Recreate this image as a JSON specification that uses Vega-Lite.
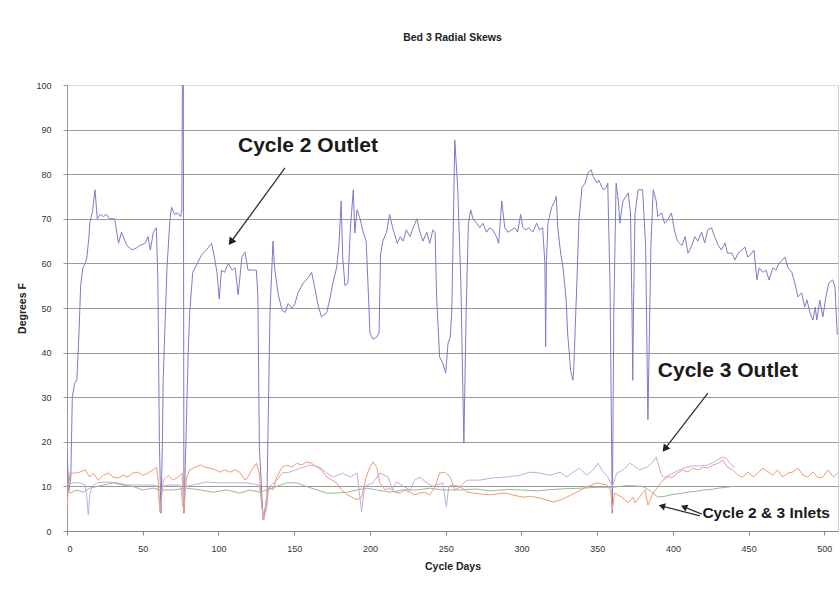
{
  "$schema": "https://vega.github.io/schema/vega-lite/v6.json",
  "width": 771,
  "height": 446,
  "autosize": {"type": "none"},
  "padding": {"left": 67, "top": 85, "right": 2, "bottom": 59},
  "background": "white",
  "title": {"text": "Bed 3 Radial Skews", "fontSize": 10.5, "font": "Liberation Sans Narrow, Liberation Sans, Arial", "fontWeight": "bold", "offset": 38, "anchor": "middle", "color": "#222"},
  "config": {"view": {"stroke": "#cfcfcf", "strokeWidth": 1}},
  "datasets": {
    "c2o": [[0,18],[1.2,9],[2.5,12],[3.5,30],[5,33],[6.5,34],[8,45],[9,55],[10.5,59],[12,60],[13,61],[14.5,66],[15,69],[17,72],[18.5,76.5],[20,70],[22,71],[24,70.5],[26,71],[28,70],[31.5,70],[34,64.5],[36,67],[39.5,64],[43,63],[46,63.5],[48,64],[51.5,64.5],[53.5,66],[55,63],[57,67],[59,68],[60,56],[61,20],[62,4],[63,20],[63.5,34],[66,59],[68,70],[69,72.6],[71,71],[73,71.3],[75,70.5],[75.8,72],[76.2,100],[76.8,100],[77.2,4],[78.5,20],[80,40],[81,49],[83,58],[86,60],[89,62],[92,63],[95.5,64.5],[97,62],[99,58],[100.5,52],[102,58.5],[104,58],[106.5,60],[109,58.5],[111,59],[113,53],[115.5,61.5],[117.5,62.5],[119.5,58.5],[123,58.5],[125,58.5],[126,53],[127,19],[129.5,2.5],[132,7.6],[134,49],[136,65],[137,59],[139.5,53],[142,49.5],[144,49],[146,51],[148.5,50],[150.5,51],[152.5,53.4],[156,55.6],[159,56.7],[161.5,58],[163.5,54.7],[165.5,51],[168,48],[171.5,49],[173.5,52],[175.5,55.6],[178,59],[179.5,64],[181,74],[182,61.5],[183.5,55],[185.5,55.6],[187,67.5],[189,76.5],[190,66.8],[191.5,72],[193.5,70],[195.5,67],[197.5,65],[199,53],[200,44.4],[202,43],[204.5,43.5],[206,44.4],[207,62],[208.5,65],[211,67],[213,71],[215,68],[218,64.5],[220,66],[222,65],[224,67.5],[226.5,66],[228.5,68],[231,70],[233,67],[235,65],[237.5,67],[239.5,64.5],[241.5,67.5],[243,67],[244,52.5],[246,39],[248,37.7],[250,35.4],[251.5,42],[253,43.5],[254,49],[255,67.5],[256,87.7],[257.5,79.4],[258,76.5],[260,56],[262,19.7],[263.5,49],[265,69],[266.5,72],[268,70],[270.5,69],[272.5,68],[274.5,69],[277,67],[279,68],[281,67.5],[283.5,66],[285,64.5],[287,74],[289,68],[291,67],[293.5,67.5],[295.5,68],[297.5,67],[299.5,71],[301,68],[303,67.5],[305,68],[307.5,67],[310,69],[312,67.5],[314,68],[315.5,60],[316,41.3],[316.5,60],[317.5,69],[320,72.6],[322,74],[323,75],[324,68],[326,62],[327.5,59],[329.5,52],[330.5,44.4],[332.5,36],[334,33.8],[334.5,36],[336.5,54.7],[338,69.7],[340,77],[342,78],[344,80.3],[346,81],[347.5,79.4],[350,78],[351,78.7],[354,76.5],[356,77],[357,78],[358.5,54.7],[360,4],[361,49],[362.5,78],[364,74],[365,69],[367,74],[369,75],[370.5,75.8],[372,71.3],[373,50],[373.5,33.8],[374,50],[375,71],[377,76.5],[380,76.5],[382,64],[383.5,25],[385.5,64],[387,76.5],[389,74],[390,70.5],[392.5,71.3],[394.5,69],[396.5,69.7],[399,71.3],[401,67.5],[403,65],[406,64],[408,66],[410,62.3],[412.5,64],[414.5,66],[416.5,65],[419,67],[421,64.6],[423,67.5],[425.5,68],[427.5,66],[430,64],[432,63],[434.5,64.6],[436,62.3],[439,62.3],[441,60.8],[443,62.3],[445.5,63],[447.5,63.7],[449.5,61.4],[452,62.3],[453.5,63],[455.5,56.3],[457,59],[459.5,58],[461.5,58.5],[463.5,56.3],[466,59],[468,58.5],[470,60],[472.5,60.8],[474,61.4],[476,59],[478.5,58],[480.5,55.6],[482.5,52.5],[485,53.4],[487,50.2],[488.5,51.8],[490.5,48.9],[492.5,47.3],[494,50.2],[495,47.3],[497,51.8],[499,48],[501,52.5],[503,55.6],[505.5,56.3],[507,54.7],[508.5,44]],
    "c2i": [[0,5.4],[1,10],[2,13],[5,13],[8.5,13.2],[12,13.7],[15,12.1],[17.5,13],[20.5,11.4],[24,12.5],[27.5,13],[30.5,12.1],[34,11.9],[37,12.5],[40,12.1],[43.5,13],[47,13.2],[50,12.5],[53.5,13],[57,13.7],[59,14.3],[60,12.1],[61.5,4.3],[63.5,11.4],[67,12.5],[70,11.4],[73.5,12.1],[76,13],[77,4.3],[79,12.1],[81,13.7],[84.5,14.3],[88,14.8],[91,14.3],[94.5,14.1],[98,13.7],[101,13.2],[104,13.7],[107.5,13.2],[111,13.7],[114,13.2],[117.5,11.4],[119.5,12.1],[122,13.7],[125,15.2],[127,13],[128.5,5.4],[130,2.9],[132,5.4],[133,10],[136,9.2],[138.5,12.1],[142,14.3],[145,14.8],[148.5,14.3],[151.5,15.2],[155,14.8],[158,15.5],[161.5,15.2],[165,14.3],[168,13.7],[171.5,12.1],[175,11.4],[178,10.8],[181.5,9.2],[185,8.1],[188,7.6],[191.5,7],[194.5,7.6],[197.5,12.1],[200,14.3],[202,15.5],[204.5,14.3],[206.5,10.8],[210,9.2],[213,9.6],[216.5,8.7],[220,8.5],[223,9.2],[226.5,8.7],[229.5,8.1],[233,8.5],[236,8.7],[239.5,8.1],[243,9.9],[246,13],[249.5,13.2],[253,12.1],[256,9.2],[259.5,9.9],[264,8.8],[268,8.5],[273,8.3],[279,8.1],[285,8.4],[290,8.5],[295,8],[301,7.6],[306,7.8],[312,7.4],[316,7],[321,6.5],[326,7],[330,7.6],[336.5,8.7],[343,9.9],[350,10.8],[356.5,10.3],[359,9],[360,4.7],[361.5,8.5],[366,7.6],[370.5,6.3],[373.5,7.6],[375,6.3],[378,7.6],[381.5,9.2],[383.5,5.8],[387,8.5],[390,9.9],[393.5,11.4],[396.5,12.1],[400,12.1],[403,13],[406.5,13.7],[410,13.2],[413,14.1],[416.5,13.7],[420,14.3],[423,14.1],[426.5,14.8],[430,15.2],[433,15.9],[436,14.3],[439.5,13.7],[443,12.5],[446,12.1],[449.5,13.2],[453,12.1],[456,13],[459.5,14.1],[463,13.2],[466,12.5],[469,13.7],[472.5,12.1],[476,13],[479,13.2],[482.5,14.1],[486,12.5],[489,12.1],[492.5,13.2],[496,11.9],[499,12.1],[502.5,13.7],[506,12.1],[509,13]],
    "c3o": [[0,10.3],[4,10.8],[8.5,10.8],[12,10.3],[13,8],[14,3.6],[15,8],[16.5,10],[20,10.8],[26.5,11],[33,10.8],[39.5,10.3],[48,10.3],[57,10.3],[60,10],[61.5,4.3],[63,10],[66,10.3],[75,10.3],[76.5,5.4],[78,10],[83,10.3],[92,11],[101,10.8],[109.5,10.8],[118.5,10.8],[127,10.3],[130,2.5],[132,8],[134,10],[138.5,11.4],[142,13],[147,13.2],[154,14.1],[160.5,14.8],[167,14.3],[171.5,13],[175.5,12.1],[182,13],[187,12.1],[191.5,13],[194.5,4.3],[196.5,10],[202,10.8],[206.5,13],[212,12.1],[215,9.2],[217.5,11],[222,10],[226.5,9.2],[229.5,11.4],[233,12.1],[237.5,10.8],[241.5,10],[248,10.8],[250.5,5.4],[252,10],[254,10.3],[259.5,10],[264,11.4],[272.5,11.4],[281,11.9],[290,12.1],[299,12.5],[305.5,13.2],[312,13],[319,12.5],[325.5,13.2],[330,12.1],[334,13.2],[338.5,14.1],[343,12.5],[347.5,13.7],[350.5,15.2],[354,13.2],[357,12.1],[360,10],[363,13],[367,13.7],[371.5,15.2],[373.5,14.8],[378,13.7],[383,14.3],[386,15.2],[389,16.6],[392,13],[394,12],[398,12.6],[403,13.5],[408,14.2],[413,14.6],[418,14.6],[423,14.8],[428,15.6],[432,16.5],[435,16.4],[438,15],[441,14.2]],
    "c3i": [[0,9.2],[2,8.5],[6.5,9.2],[10.5,8.7],[15,9.6],[20,10],[24,10.3],[30.5,10.8],[37,10.3],[43.5,10],[50,9.2],[57,9.6],[61.5,9.2],[70,9.2],[79,9.6],[88,9.2],[96.5,8.7],[105.5,9.2],[114,8.5],[121,9.2],[127,8.7],[132,9.2],[138.5,10],[145,10.8],[151.5,10.8],[158,10],[165,9.2],[171.5,8.5],[178,8.5],[185,8.7],[191.5,9.2],[198,9.6],[204.5,9.2],[213,8.7],[222,9.2],[231,9.2],[239.5,9.6],[248,9.2],[259.5,9.2],[270,9.4],[280,9],[290,9.3],[300,9.2],[310,9],[320,9.3],[330,9.5],[340,9.6],[350,9.8],[360,9.8],[370,10.2],[380,10],[385,9],[390,7.6],[395,7.8],[400,8.2],[405,8.4],[410,8.7],[415,8.9],[420,9.2],[425,9.3],[430,9.6],[435,9.8],[440,10]]
  },
  "layer": [
    {
      "data": {"name": "c2o"},
      "transform": [{"calculate": "'Cycle 2 Outlet'", "as": "s"}],
      "mark": {"type": "line", "strokeWidth": 1, "clip": true},
      "encoding": {
        "x": {"field": "0", "type": "quantitative", "scale": {"domain": [0, 509], "nice": false, "zero": false},
          "axis": {"values": [0,50,100,150,200,250,300,350,400,450,500], "grid": false, "tickSize": 4, "tickColor": "#888", "domainColor": "#888",
            "labelFontSize": 9, "labelFont": "Liberation Sans", "labelColor": "#333", "labelPadding": 9,
            "title": "Cycle Days", "titleFont": "Liberation Sans Narrow, Liberation Sans, Arial", "titleFontSize": 10.5, "titleFontWeight": "bold", "titleColor": "#222", "titlePadding": 8}},
        "y": {"field": "1", "type": "quantitative", "scale": {"domain": [0, 100], "nice": false},
          "axis": {"values": [0,10,20,30,40,50,60,70,80,90,100], "grid": true,
            "gridColor": {"condition": {"test": "datum.value === 100", "value": "#dddddd"}, "value": "#9a9a9a"},
            "gridWidth": 1.2, "tickSize": 4, "tickColor": "#999", "domainColor": "#999",
            "labelFontSize": 9, "labelFont": "Liberation Sans", "labelColor": "#333", "labelPadding": 12,
            "title": "Degrees F", "titleFont": "Liberation Sans Narrow, Liberation Sans, Arial", "titleFontSize": 10.5, "titleFontWeight": "bold", "titleColor": "#222", "titlePadding": 8}},
        "color": {"field": "s", "type": "nominal", "legend": null,
          "scale": {"domain": ["Cycle 2 Outlet", "Cycle 3 Outlet", "Cycle 2 Inlet", "Cycle 3 Inlet"], "range": ["#7c7cc8", "#c0aee0", "#f39a74", "#94bc94"]}}
      }
    },
    {
      "data": {"name": "c3o"},
      "transform": [{"calculate": "'Cycle 3 Outlet'", "as": "s"}],
      "mark": {"type": "line", "strokeWidth": 1, "clip": true},
      "encoding": {"x": {"field": "0", "type": "quantitative"}, "y": {"field": "1", "type": "quantitative"}, "color": {"field": "s", "type": "nominal"}}
    },
    {
      "data": {"name": "c3i"},
      "transform": [{"calculate": "'Cycle 3 Inlet'", "as": "s"}],
      "mark": {"type": "line", "strokeWidth": 1, "clip": true},
      "encoding": {"x": {"field": "0", "type": "quantitative"}, "y": {"field": "1", "type": "quantitative"}, "color": {"field": "s", "type": "nominal"}}
    },
    {
      "data": {"name": "c2i"},
      "transform": [{"calculate": "'Cycle 2 Inlet'", "as": "s"}],
      "mark": {"type": "line", "strokeWidth": 1, "clip": true},
      "encoding": {"x": {"field": "0", "type": "quantitative"}, "y": {"field": "1", "type": "quantitative"}, "color": {"field": "s", "type": "nominal"}}
    },
    {
      "data": {"values": [
        {"d": 143.9, "v": 81.4, "d2": 108.2, "v2": 64.8},
        {"d": 423.1, "v": 30.9, "d2": 394.7, "v2": 18.4},
        {"d": 417.8, "v": 3.4, "d2": 392.7, "v2": 5.6},
        {"d": 419.1, "v": 3.8, "d2": 407.3, "v2": 5.4}
      ]},
      "mark": {"type": "rule", "color": "#333", "strokeWidth": 1.3},
      "encoding": {"x": {"field": "d", "type": "quantitative"}, "y": {"field": "v", "type": "quantitative"}, "x2": {"field": "d2"}, "y2": {"field": "v2"}}
    },
    {
      "data": {"values": [{"d": 108.2, "v": 64.8}]},
      "mark": {"type": "point", "shape": "triangle-up", "filled": true, "color": "#222", "opacity": 1, "size": 70, "angle": 216},
      "encoding": {"x": {"field": "d", "type": "quantitative"}, "y": {"field": "v", "type": "quantitative"}}
    },
    {
      "data": {"values": [{"d": 394.7, "v": 18.4}]},
      "mark": {"type": "point", "shape": "triangle-up", "filled": true, "color": "#222", "opacity": 1, "size": 70, "angle": 217.5},
      "encoding": {"x": {"field": "d", "type": "quantitative"}, "y": {"field": "v", "type": "quantitative"}}
    },
    {
      "data": {"values": [{"d": 392.7, "v": 5.6}]},
      "mark": {"type": "point", "shape": "triangle-up", "filled": true, "color": "#222", "opacity": 1, "size": 55, "angle": 284.4},
      "encoding": {"x": {"field": "d", "type": "quantitative"}, "y": {"field": "v", "type": "quantitative"}}
    },
    {
      "data": {"values": [{"d": 407.3, "v": 5.4}]},
      "mark": {"type": "point", "shape": "triangle-up", "filled": true, "color": "#222", "opacity": 1, "size": 55, "angle": 291.4},
      "encoding": {"x": {"field": "d", "type": "quantitative"}, "y": {"field": "v", "type": "quantitative"}}
    },
    {
      "data": {"values": [
        {"label": "Cycle 2 Outlet", "d": 159.1, "v": 86.3},
        {"label": "Cycle 3 Outlet", "d": 436.3, "v": 35.9}
      ]},
      "mark": {"type": "text", "font": "Liberation Sans", "fontWeight": "bold", "fontSize": 21, "color": "#1a1a1a", "align": "center", "baseline": "middle"},
      "encoding": {"x": {"field": "d", "type": "quantitative"}, "y": {"field": "v", "type": "quantitative"}, "text": {"field": "label"}}
    },
    {
      "data": {"values": [{"label": "Cycle 2 & 3 Inlets", "d": 419.5, "v": 4.0}]},
      "mark": {"type": "text", "font": "Liberation Sans", "fontWeight": "bold", "fontSize": 15.5, "color": "#1a1a1a", "align": "left", "baseline": "middle"},
      "encoding": {"x": {"field": "d", "type": "quantitative"}, "y": {"field": "v", "type": "quantitative"}, "text": {"field": "label"}}
    }
  ]
}
